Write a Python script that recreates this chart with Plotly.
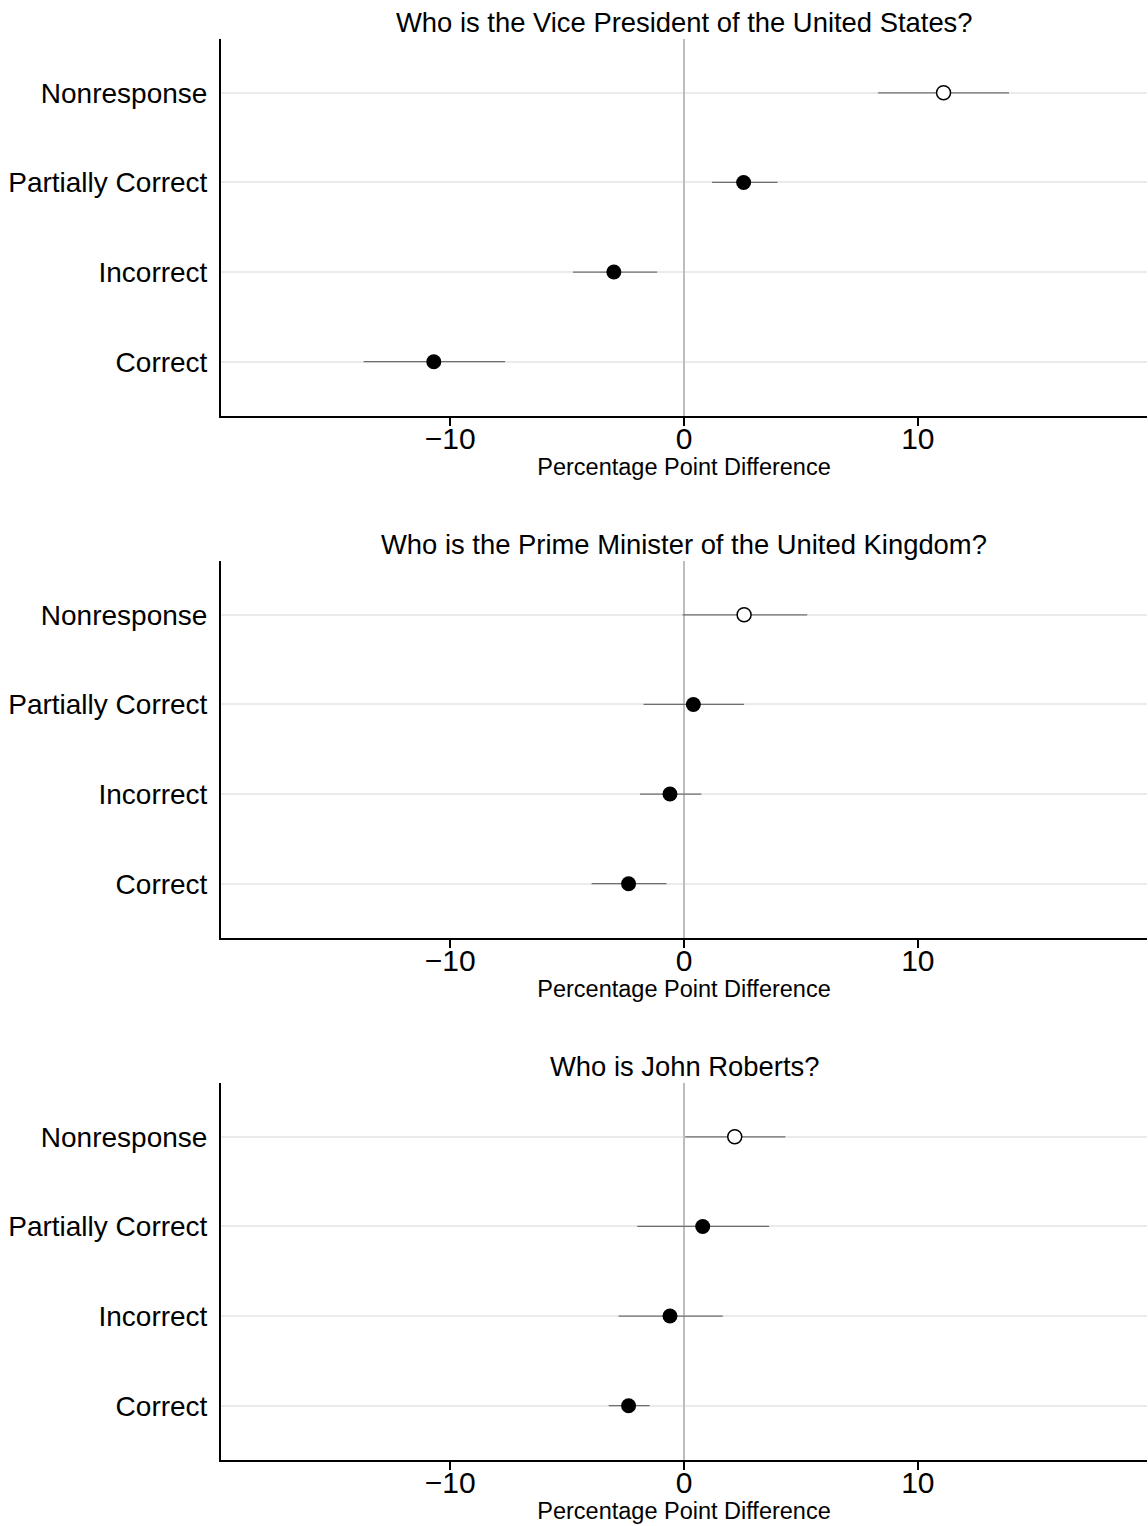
import plotly.graph_objects as go

# ---- data ----
categories = ["Correct", "Incorrect", "Partially Correct", "Nonresponse"]
titles = [
    "Who is the Vice President of the United States?",
    "Who is the Prime Minister of the United Kingdom?",
    "Who is John Roberts?",
]
# point estimates and 95% CI bounds (order follows categories)
est_vp = [-10.7, -3.0, 2.55, 11.1]
lo_vp = [-13.7, -4.75, 1.2, 8.3]
hi_vp = [-7.65, -1.15, 4.0, 13.9]

est_pm = [-2.37, -0.6, 0.4, 2.57]
lo_pm = [-3.95, -1.88, -1.73, -0.06]
hi_pm = [-0.75, 0.74, 2.57, 5.27]

est_jr = [-2.37, -0.6, 0.8, 2.17]
lo_jr = [-3.22, -2.8, -2.0, 0.05]
hi_jr = [-1.47, 1.66, 3.64, 4.34]

xticks = [-10, 0, 10]
xtick_labels = ["\u221210", "0", "10"]
x_title = "Percentage Point Difference"

panels = [(est_vp, lo_vp, hi_vp), (est_pm, lo_pm, hi_pm), (est_jr, lo_jr, hi_jr)]

W, H = 1148, 1526
# panel pixel extents (top, bottom)
pix = [(39, 415.5), (561, 937.5), (1083, 1459.5)]

FONT = "Liberation Sans, Arial, sans-serif"
fig = go.Figure()
annotations = []
for i, (est, lo, hi) in enumerate(panels):
    n = i + 1
    xa = "x" if n == 1 else f"x{n}"
    ya = "y" if n == 1 else f"y{n}"
    ypos = list(range(len(categories)))
    plus = [h - e for e, h in zip(est, hi)]
    minus = [e - l for e, l in zip(est, lo)]
    # CI lines via error bars (markers invisible)
    fig.add_trace(go.Scatter(
        x=est, y=ypos, xaxis=xa, yaxis=ya, mode="markers",
        marker=dict(size=1, color="rgba(0,0,0,0)"),
        error_x=dict(type="data", symmetric=False, array=plus, arrayminus=minus,
                     width=0, thickness=1.3, color="#6e6e6e"),
        showlegend=False, hoverinfo="skip"))
    # filled markers (all but Nonresponse)
    fig.add_trace(go.Scatter(
        x=est[:3], y=ypos[:3], xaxis=xa, yaxis=ya, mode="markers",
        marker=dict(size=15, color="black", line=dict(width=0)),
        showlegend=False))
    # hollow marker for Nonresponse
    fig.add_trace(go.Scatter(
        x=est[3:], y=ypos[3:], xaxis=xa, yaxis=ya, mode="markers",
        marker=dict(size=14, color="white", line=dict(width=1.5, color="black")),
        showlegend=False))

    top, bot = pix[i]
    dom = [1 - bot / H, 1 - top / H]
    axkey = "xaxis" if n == 1 else f"xaxis{n}"
    aykey = "yaxis" if n == 1 else f"yaxis{n}"
    fig.layout[axkey] = dict(
        domain=[0, 1], anchor=ya, range=[-19.8, 19.8],
        tickvals=xticks, ticktext=xtick_labels,
        ticks="outside", ticklen=8, tickwidth=1.5, tickcolor="black",
        ticklabelstandoff=-13,
        showline=True, linecolor="black", linewidth=2,
        showgrid=False, zeroline=True, zerolinecolor="#bdbdbd", zerolinewidth=2,
        tickfont=dict(family=FONT, size=30, color="black"),
        title=dict(text=x_title, font=dict(family=FONT, size=23.5, color="black"), standoff=5),
        automargin=False, fixedrange=True)
    fig.layout[aykey] = dict(
        domain=dom, anchor=xa, range=[-0.6, 3.6],
        tickvals=ypos, ticktext=categories,
        ticks="", ticklabelstandoff=6,
        showline=True, linecolor="black", linewidth=2,
        showgrid=True, gridcolor="#ebebeb", gridwidth=1.5, zeroline=False,
        tickfont=dict(family=FONT, size=28, color="black"),
        automargin=False, fixedrange=True)
    annotations.append(dict(
        text=titles[i], xref="paper", yref="paper", x=0.5, y=1 - (top - 17) / H,
        xanchor="center", yanchor="middle", showarrow=False,
        font=dict(family=FONT, size=27.4, color="black")))

fig.update_layout(
    width=W, height=H,
    margin=dict(l=221, r=1, t=0, b=0),
    paper_bgcolor="white", plot_bgcolor="white",
    annotations=annotations,
    showlegend=False,
)
fig.write_html(
    "out.html",
    config={"displayModeBar": False},
    post_script="document.body.style.margin='0';document.body.style.overflow='hidden';",
)
